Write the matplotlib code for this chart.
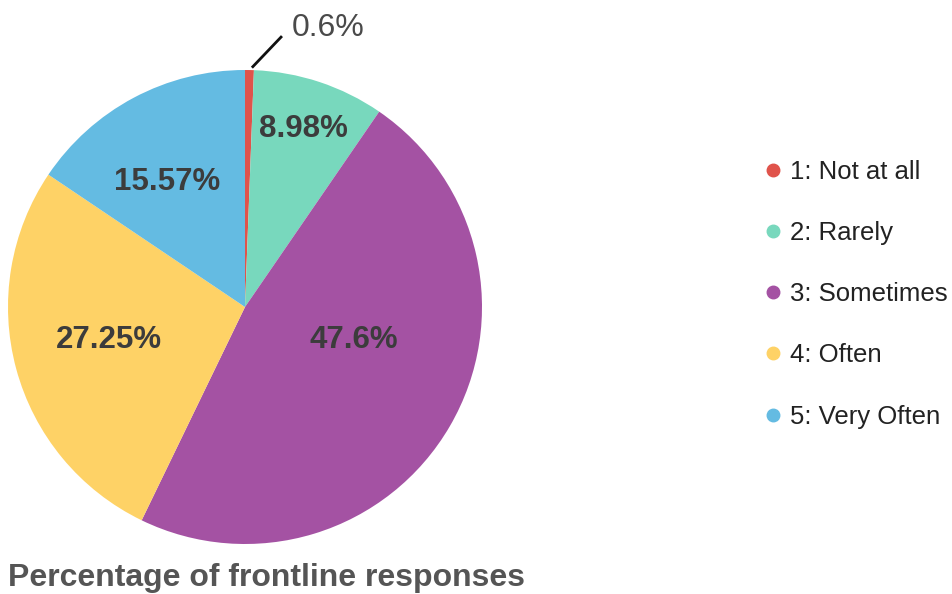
import numpy as np
import matplotlib
matplotlib.use("Agg")
import matplotlib.pyplot as plt
from matplotlib.lines import Line2D

categories = ["1: Not at all", "2: Rarely", "3: Sometimes", "4: Often", "5: Very Often"]
shares = [0.6, 8.98, 47.6, 27.25, 15.57]
labels = ["0.6%", "8.98%", "47.6%", "27.25%", "15.57%"]
colors = ["#E0534B", "#78D8BD", "#A452A3", "#FED266", "#64BBE2"]
title = "Percentage of frontline responses"

# label placement: fraction of radius, angular shift from wedge middle (deg)
label_r = [None, 0.79, 0.48, 0.59, 0.62]
label_shift = [0, 0, 13.5, -1.4, 3.8]

plt.rcParams["font.family"] = ["Liberation Sans", "DejaVu Sans"]

fig = plt.figure(figsize=(9.53, 5.94), dpi=100)
ax = fig.add_axes([8 / 953, 50 / 594, 474 / 953, 474 / 594])

wedges, _ = ax.pie(shares, colors=colors, startangle=90, counterclock=False,
                   radius=1, wedgeprops=dict(linewidth=0))
ax.set_xlim(-1, 1)
ax.set_ylim(-1, 1)
ax.set_aspect("equal")
ax.axis("off")

for i, w in enumerate(wedges):
    mid = np.deg2rad((w.theta1 + w.theta2) / 2 + label_shift[i])
    if label_r[i] is None:
        # small slice: leader line out to the label
        x0, y0 = np.cos(mid) * 1.01 + 0.01, np.sin(mid) * 1.01
        ax.plot([x0, 0.156], [y0, 1.143], color="#111111", lw=2,
                solid_capstyle="butt", clip_on=False)
        ax.text(0.198, 1.178, labels[i], fontsize=23, color="#4a4a4a",
                va="center", ha="left", clip_on=False)
    else:
        ax.text(np.cos(mid) * label_r[i], np.sin(mid) * label_r[i], labels[i],
                ha="center", va="center", fontsize=22.5, fontweight="bold",
                color="#3c3c3c")

handles = [Line2D([0], [0], marker="o", linestyle="", markersize=9,
                  markerfacecolor=c, markeredgecolor=c) for c in colors]
fig.legend(handles, categories, loc="center left", bbox_to_anchor=(740 / 953, 0.505),
           frameon=False, fontsize=18.5, labelspacing=1.45, handletextpad=0.26,
           handlelength=0.8, labelcolor="#222222")

fig.text(8 / 953, 1 - 578 / 594, title, ha="left", va="center", fontsize=23,
         fontweight="bold", color="#555555")

fig.savefig("out.png", dpi=100)
